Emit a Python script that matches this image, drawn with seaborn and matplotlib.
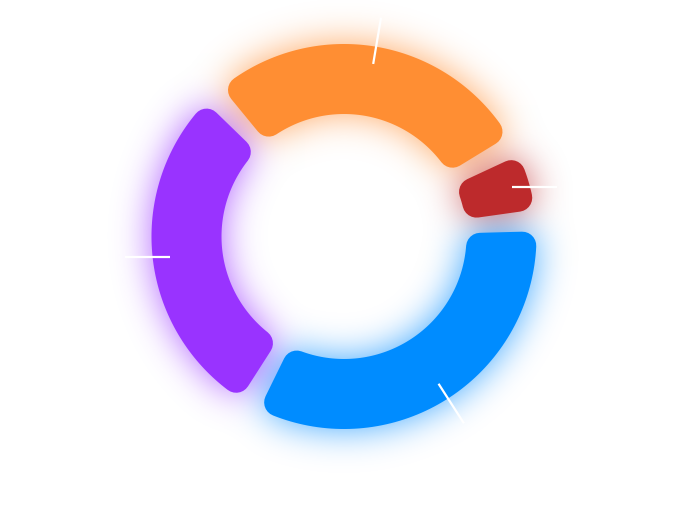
import numpy as np
import pandas as pd
import matplotlib
matplotlib.use('Agg')
import matplotlib.pyplot as plt
import seaborn as sns
from matplotlib.patches import Polygon

# --- data (clockwise from upper left) ---
categories = ['Orange', 'Red', 'Blue', 'Purple']
values = [29.0, 6.5, 34.5, 30.0]
colors = ['#FF8E33', '#BD2A2C', '#008CFF', '#9933FF']

# --- layout / style ---
W, H = 699, 510
CX, CY = 344, H - 237.5
R_OUT, R_IN = 192.5, 122.5
CORNER = 14          # corner radius, px
PAD_DEG = 6.5        # gap between segments
START = 132.6        # start angle of first segment (matplotlib degrees)
BLUR_SIGMA = 18
GLOW_STRENGTH = 0.75

sns.set_theme(style='white')
df = pd.DataFrame({'category': categories, 'value': values, 'color': colors})


def rounded_segment(t1, t2, color):
    """Padded ring sector with rounded corners: shrink by the corner radius, stroke it back with round joins."""
    a1, a2 = np.radians(t1 + PAD_DEG / 2), np.radians(t2 - PAD_DEG / 2)
    ro, ri = R_OUT - CORNER, R_IN + CORNER
    do, di = np.arcsin(CORNER / ro), np.arcsin(CORNER / ri)
    outer = np.linspace(a1 + do, a2 - do, 80)
    inner = np.linspace(a2 - di, a1 + di, 80)
    xs = np.r_[CX + ro * np.cos(outer), CX + ri * np.cos(inner)]
    ys = np.r_[CY + ro * np.sin(outer), CY + ri * np.sin(inner)]
    return Polygon(np.c_[xs, ys], closed=True, facecolor=color, edgecolor=color,
                   linewidth=2 * CORNER * 0.72, joinstyle='round', zorder=2)


def gaussian_blur(img, sigma):
    r = int(3 * sigma)
    k = np.exp(-0.5 * (np.arange(-r, r + 1) / sigma) ** 2)
    k /= k.sum()
    out = np.apply_along_axis(lambda v: np.convolve(v, k, mode='same'), 0, img)
    out = np.apply_along_axis(lambda v: np.convolve(v, k, mode='same'), 1, out)
    return out


fig = plt.figure(figsize=(W / 100, H / 100), dpi=100)
ax = fig.add_axes([0, 0, 1, 1])

wedges, _ = ax.pie(df['value'], startangle=START, counterclock=False,
                   center=(CX, CY), radius=R_OUT, wedgeprops=dict(width=R_OUT - R_IN))
mids = []
for w, c in zip(wedges, df['color']):
    w.set_visible(False)
    ax.add_patch(rounded_segment(w.theta1, w.theta2, c))
    mids.append(np.radians((w.theta1 + w.theta2) / 2))

ax.set_xlim(0, W)
ax.set_ylim(0, H)
ax.set_aspect('auto')
ax.axis('off')
ax.patch.set_alpha(0)

# first pass: render the segments alone, blur them into a coloured glow
fig.patch.set_alpha(0)
fig.canvas.draw()
rgba = np.asarray(fig.canvas.buffer_rgba()).astype(float) / 255
alpha = rgba[..., 3:4]
premult = gaussian_blur(rgba[..., :3] * alpha, BLUR_SIGMA)
alpha_b = gaussian_blur(alpha, BLUR_SIGMA)
glow = np.zeros_like(rgba)
glow[..., :3] = np.clip(premult / np.maximum(alpha_b, 1e-6), 0, 1)
glow[..., 3] = np.clip(alpha_b[..., 0] * GLOW_STRENGTH, 0, 1)

ax.imshow(glow, extent=(0, W, 0, H), origin='upper', zorder=0, interpolation='none')
ax.set_xlim(0, W)
ax.set_ylim(0, H)
ax.set_aspect('auto')
fig.patch.set_alpha(1)
fig.patch.set_facecolor('white')

# white label lines: radial near top/bottom, horizontal at the sides
for a in mids:
    r0 = 175
    x0, y0 = CX + r0 * np.cos(a), CY + r0 * np.sin(a)
    if abs(np.cos(a)) > 0.9:
        x1, y1 = x0 + 45 * np.sign(np.cos(a)), y0
    else:
        x1, y1 = CX + 222 * np.cos(a), CY + 222 * np.sin(a)
    ax.plot([x0, x1], [y0, y1], color='white', lw=1.6, zorder=3, solid_capstyle='butt')

fig.savefig('out.png', dpi=100)
